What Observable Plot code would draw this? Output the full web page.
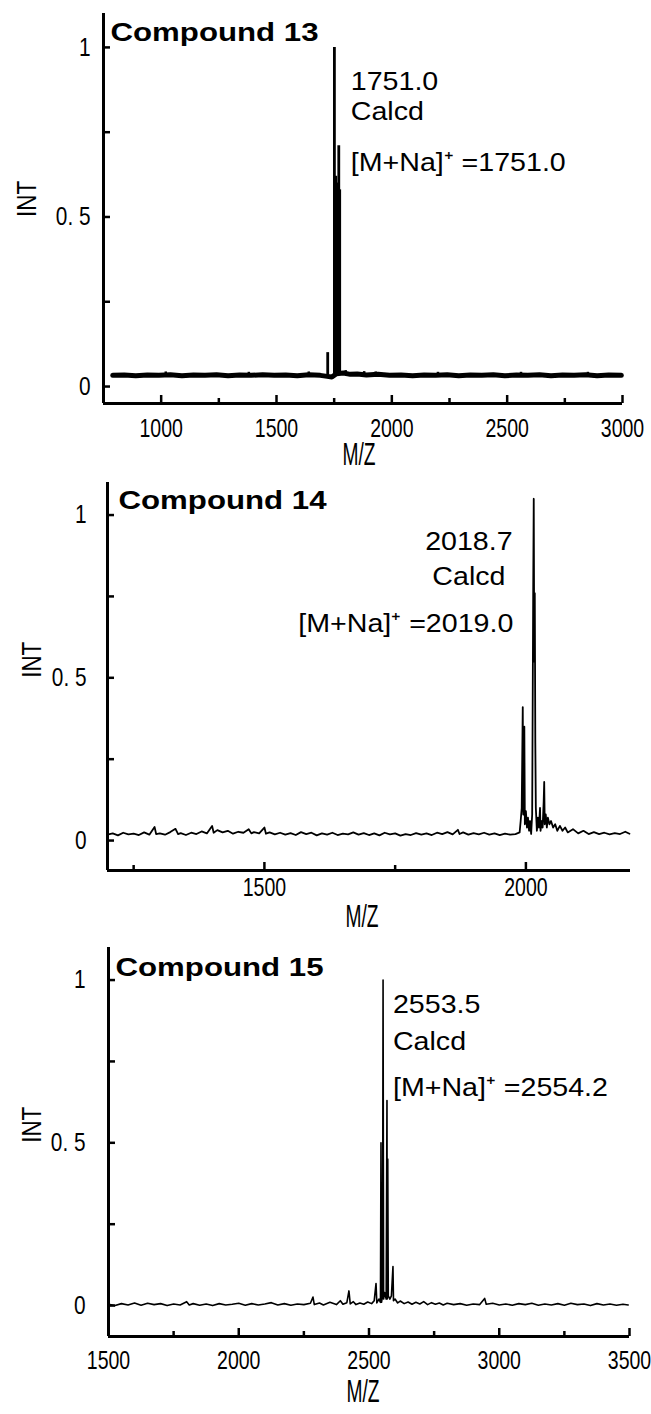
<!DOCTYPE html>
<html><head><meta charset="utf-8">
<script src="https://cdn.jsdelivr.net/npm/d3@7"></script>
<script src="https://cdn.jsdelivr.net/npm/@observablehq/plot@0.6"></script>
<style>
body{margin:0;background:#fff;}
#chart{width:651px;}
#chart svg{display:block;}
</style></head><body><div id="chart"></div>
<script>
// ---------- data ----------
const titles = ["Compound 13", "Compound 14", "Compound 15"];
const yTicks = [0, 0.5, 1];
const yTickLabels = ["0", "0. 5", "1"];
const yMinor = [0.25, 0.75];
const xTicks13 = [1000, 1500, 2000, 2500, 3000];
const xMinor13 = [1250, 1750, 2250, 2750];
const xTicks14 = [1500, 2000];
const xMinor14 = [1250, 1750];
const xTicks15 = [1500, 2000, 2500, 3000, 3500];
const xMinor15 = [1750, 2250, 2750, 3250];

const anno13 = ["1751.0", "Calcd", "[M+Na]\u207A =1751.0"];
const anno14 = ["2018.7", "Calcd", "[M+Na]\u207A =2019.0"];
const anno15 = ["2553.5", "Calcd", "[M+Na]\u207A =2554.2"];

// Compound 13: baseline (m/z, intensity) and stick peaks
const base13 = [[790,0.033],[840,0.034],[890,0.032],[940,0.034],[990,0.033],[1040,0.035],[1090,0.032],[1140,0.034],[1190,0.033],[1240,0.035],[1290,0.032],[1340,0.034],[1390,0.033],[1440,0.035],[1490,0.033],[1540,0.034],[1590,0.032],[1640,0.035],[1690,0.033],[1720,0.030],[1740,0.028],[1760,0.038],[1790,0.040],[1820,0.036],[1850,0.037],[1890,0.034],[1940,0.036],[1990,0.033],[2040,0.034],[2090,0.032],[2140,0.034],[2190,0.033],[2240,0.035],[2290,0.032],[2340,0.034],[2390,0.033],[2440,0.035],[2490,0.032],[2540,0.034],[2590,0.033],[2640,0.035],[2690,0.032],[2740,0.034],[2790,0.033],[2840,0.035],[2890,0.032],[2940,0.034],[2995,0.033]];
const spikes13 = [[1020,0.043],[1380,0.042],[1640,0.043],[1800,0.047],[1880,0.044],[1930,0.043],[2200,0.042],[2560,0.042],[2850,0.042]];
const peakMz13 = [1722, 1751, 1757, 1766, 1770, 1774];
const peakInt13 = [0.10, 1.00, 0.62, 0.60, 0.71, 0.58];

// Compound 14: profile spectrum
const line14 = [[1200,0.018],[1210,0.022],[1220,0.016],[1230,0.024],[1240,0.019],[1250,0.021],[1260,0.017],[1270,0.025],[1280,0.018],[1290,0.042],[1293,0.02],[1300,0.022],[1310,0.018],[1320,0.026],[1330,0.036],[1335,0.02],[1340,0.023],[1350,0.017],[1360,0.024],[1370,0.02],[1380,0.028],[1390,0.022],[1400,0.045],[1403,0.024],[1410,0.032],[1420,0.025],[1430,0.03],[1440,0.021],[1450,0.027],[1460,0.024],[1470,0.035],[1475,0.022],[1480,0.026],[1490,0.022],[1500,0.04],[1503,0.021],[1510,0.025],[1520,0.019],[1530,0.024],[1540,0.018],[1550,0.023],[1560,0.017],[1570,0.026],[1580,0.02],[1590,0.024],[1600,0.016],[1610,0.022],[1620,0.018],[1630,0.024],[1640,0.017],[1650,0.021],[1660,0.019],[1670,0.025],[1680,0.018],[1690,0.023],[1700,0.017],[1710,0.022],[1720,0.016],[1730,0.024],[1740,0.019],[1750,0.022],[1760,0.015],[1770,0.02],[1780,0.017],[1790,0.023],[1800,0.018],[1810,0.022],[1820,0.017],[1830,0.024],[1840,0.02],[1850,0.026],[1860,0.019],[1870,0.033],[1873,0.02],[1880,0.025],[1890,0.018],[1900,0.023],[1910,0.019],[1920,0.024],[1930,0.018],[1940,0.022],[1950,0.017],[1960,0.021],[1970,0.018],[1980,0.02],[1988,0.025],[1990,0.06],[1992,0.1],[1994,0.41],[1995,0.08],[1997,0.35],[1998,0.05],[2000,0.09],[2002,0.04],[2004,0.07],[2006,0.03],[2008,0.06],[2010,0.02],[2012,0.08],[2014,0.78],[2015,1.05],[2016,0.55],[2017,0.76],[2018,0.3],[2019,0.1],[2021,0.03],[2023,0.07],[2025,0.04],[2027,0.10],[2028,0.03],[2030,0.06],[2032,0.04],[2034,0.12],[2035,0.18],[2036,0.05],[2038,0.08],[2040,0.04],[2042,0.07],[2045,0.05],[2048,0.06],[2052,0.04],[2056,0.05],[2060,0.03],[2065,0.045],[2070,0.03],[2075,0.04],[2080,0.025],[2090,0.035],[2100,0.022],[2110,0.03],[2120,0.02],[2130,0.026],[2140,0.02],[2150,0.024],[2160,0.019],[2170,0.023],[2180,0.02],[2190,0.027],[2198,0.021]];

// Compound 15: profile spectrum
const line15 = [[1500,0.004],[1525,0.0],[1550,0.006],[1575,0.002],[1600,0.008],[1625,0.001],[1650,0.007],[1675,0.003],[1700,0.006],[1725,0.0],[1750,0.005],[1775,0.002],[1800,0.012],[1810,0.002],[1825,0.006],[1850,0.001],[1875,0.005],[1900,0.0],[1925,0.006],[1950,0.002],[1975,0.004],[2000,0.007],[2025,0.001],[2050,0.006],[2075,0.002],[2100,0.005],[2125,0.009],[2150,0.002],[2175,0.006],[2200,0.001],[2225,0.005],[2250,0.003],[2275,0.007],[2285,0.026],[2290,0.003],[2310,0.008],[2325,0.002],[2350,0.01],[2375,0.003],[2390,0.015],[2400,0.004],[2415,0.009],[2423,0.045],[2428,0.005],[2440,0.012],[2450,0.003],[2465,0.008],[2480,0.004],[2495,0.011],[2510,0.006],[2520,0.015],[2527,0.068],[2530,0.008],[2538,0.02],[2544,0.01],[2546,0.50],[2548,0.01],[2552,0.03],[2554,1.0],[2556,0.02],[2560,0.04],[2566,0.02],[2569,0.63],[2570,0.02],[2572,0.45],[2574,0.03],[2580,0.02],[2586,0.03],[2592,0.12],[2594,0.015],[2600,0.02],[2610,0.008],[2620,0.014],[2635,0.006],[2650,0.011],[2665,0.004],[2680,0.01],[2695,0.005],[2710,0.012],[2725,0.003],[2740,0.009],[2755,0.004],[2770,0.008],[2785,0.002],[2800,0.007],[2825,0.003],[2850,0.006],[2875,0.001],[2900,0.005],[2925,0.003],[2944,0.022],[2950,0.004],[2975,0.007],[3000,0.002],[3025,0.005],[3050,0.001],[3075,0.006],[3100,0.003],[3125,0.007],[3150,0.001],[3175,0.005],[3200,0.002],[3225,0.006],[3250,0.001],[3275,0.007],[3300,0.003],[3325,0.005],[3350,0.0],[3375,0.006],[3400,0.002],[3425,0.005],[3450,0.001],[3475,0.004],[3495,0.002]];

// ---------- rendering ----------
const sans = '"Liberation Sans", Arial, sans-serif';
const yLabelOf = new Map(yTicks.map((t, i) => [t, yTickLabels[i]]));

function panel(cfg) {
  const [x0] = cfg.xDomain, [y0] = cfg.yDomain;
  return Plot.plot({
    width: 651, height: cfg.h,
    marginTop: cfg.mt, marginBottom: cfg.mb, marginLeft: cfg.ml, marginRight: cfg.mr,
    x: {domain: cfg.xDomain},
    y: {domain: cfg.yDomain},
    style: {background: "white", color: "black", overflow: "visible", fontFamily: sans},
    marks: [
      ...cfg.data,
      Plot.ruleX([x0], {strokeWidth: 3}),
      Plot.ruleY([y0], {strokeWidth: 3}),
      Plot.axisY(yTicks, {tickSize: -7, tickPadding: cfg.yPad, strokeWidth: 2.5, tickFormat: d => yLabelOf.get(d), fontSize: 26, label: null}),
      Plot.axisY(yMinor, {tickSize: -7, strokeWidth: 2.5, tickFormat: () => "", label: null}),
      Plot.axisX(cfg.xTicks, {tickSize: -8, tickPadding: cfg.xPad, strokeWidth: 2.5, tickFormat: d => String(d), fontSize: 25, label: null}),
      Plot.axisX(cfg.xMinor, {tickSize: -5, strokeWidth: 2.5, tickFormat: () => "", label: null}),
      Plot.text(["INT"], {y: [0.5], frameAnchor: "left", dx: cfg.intDx, rotate: -90, fontSize: 28, text: d => d}),
      Plot.text(["M/Z"], {frameAnchor: "bottom", lineAnchor: "middle", dx: cfg.mzDx, dy: cfg.mzDy, fontSize: 31, text: d => d}),
      Plot.text([cfg.title], {frameAnchor: "top-left", lineAnchor: "middle", dx: cfg.tDx, dy: cfg.tDy, textAnchor: "start", fontSize: 26, fontWeight: "bold", text: d => d}),
      ...cfg.anno
    ]
  });
}

function annoMarks(lines, xs, ys, anchors) {
  return lines.map((t, i) => Plot.text([t], {x: [xs[i]], y: [ys[i]], textAnchor: anchors[i], fontSize: 26, text: d => d}));
}

const p1 = panel({
  h: 470, mt: 13, mb: 67, ml: 103, mr: 29,
  xDomain: [750, 3000], yDomain: [-0.05, 1.10],
  xTicks: xTicks13, xMinor: xMinor13, yPad: 20, xPad: 24,
  intDx: -76, mzDx: -4, mzDy: 52, tDx: 7, tDy: 19, title: titles[0],
  data: [
    Plot.line(base13, {x: d => d[0], y: d => d[1], strokeWidth: 5}),
    Plot.ruleX(spikes13, {x: d => d[0], y1: 0.033, y2: d => d[1], strokeWidth: 2.5}),
    Plot.ruleX(peakMz13, {x: d => d, y1: 0.033, y2: (d, i) => peakInt13[i], strokeWidth: 2.8})
  ],
  anno: annoMarks(anno13, [1822, 1822, 1822], [0.90, 0.81, 0.66], ["start", "start", "start"])
});

const p2 = panel({
  h: 470, mt: 12, mb: 70, ml: 107, mr: 21,
  xDomain: [1200, 2200], yDomain: [-0.092, 1.10],
  xTicks: xTicks14, xMinor: xMinor14, yPad: 28, xPad: 16,
  intDx: -75, mzDx: -7, mzDy: 47, tDx: 11, tDy: 18, title: titles[1],
  data: [
    Plot.line(line14, {x: d => d[0], y: d => d[1], strokeWidth: 1.8})
  ],
  anno: annoMarks(anno14, [1891, 1891, 1976], [0.917, 0.81, 0.667], ["middle", "middle", "end"])
});

const p3 = panel({
  h: 474, mt: 7, mb: 78, ml: 108, mr: 22,
  xDomain: [1500, 3500], yDomain: [-0.095, 1.10],
  xTicks: xTicks15, xMinor: xMinor15, yPad: 30, xPad: 23,
  intDx: -76, mzDx: -6, mzDy: 56, tDx: 7, tDy: 20, title: titles[2],
  data: [
    Plot.line(line15, {x: d => d[0], y: d => d[1], strokeWidth: 1.6})
  ],
  anno: annoMarks(anno15, [2592, 2592, 2592], [0.923, 0.81, 0.67], ["start", "start", "start"])
});

const root = document.getElementById("chart");
root.append(p1, p2, p3);

// glyph width adjustment (narrow axis font, wide title/annotation font)
const widthFactor = new Map();
[...xTicks13, ...xTicks14, ...xTicks15].forEach(v => widthFactor.set(String(v), 0.78));
yTickLabels.forEach(s => widthFactor.set(s, 0.8));
widthFactor.set("INT", 0.8);
widthFactor.set("M/Z", 0.62);
titles.forEach(s => widthFactor.set(s, 1.2));
[...anno13, ...anno14, ...anno15].forEach(s => widthFactor.set(s, 1.1));
root.querySelectorAll("text").forEach(el => {
  const f = widthFactor.get(el.textContent);
  if (!f) return;
  const L = el.getComputedTextLength();
  if (L > 0) {
    el.setAttribute("textLength", (L * f).toFixed(1));
    el.setAttribute("lengthAdjust", "spacingAndGlyphs");
  }
});
</script>
</body></html>
